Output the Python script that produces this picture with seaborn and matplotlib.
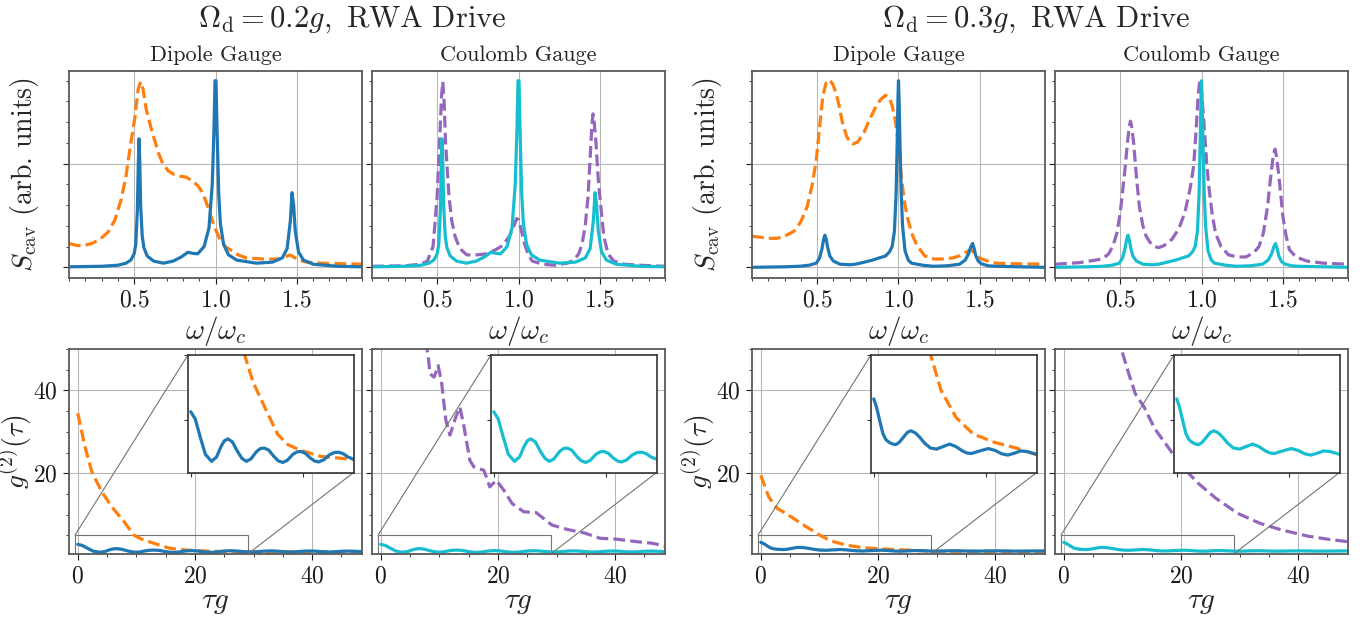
import matplotlib
matplotlib.use("Agg")
import matplotlib.pyplot as plt
from matplotlib.ticker import MultipleLocator
from mpl_toolkits.axes_grid1.inset_locator import mark_inset
import seaborn as sns

# ---------------- cavity spectra (arb. units) ----------------
# Omega_d = 0.2 g : gauge-invariant (solid) result, same in both gauges
omega_02_solid = [0.10, 0.30, 0.40, 0.45, 0.48, 0.50, 0.51, 0.52, 0.525, 0.53, 0.535, 0.54, 0.55,
                  0.56, 0.58, 0.62, 0.68, 0.74, 0.79, 0.83, 0.86, 0.89, 0.93, 0.96, 0.98, 0.99,
                  0.997, 1.003, 1.01, 1.02, 1.03, 1.05, 1.08, 1.13, 1.25, 1.35, 1.41, 1.44, 1.46,
                  1.47, 1.48, 1.49, 1.51, 1.54, 1.60, 1.75, 1.90]
s_02_solid = [0.005, 0.01, 0.02, 0.04, 0.07, 0.13, 0.22, 0.55, 0.95, 1.24, 1.0, 0.6, 0.3,
              0.19, 0.11, 0.06, 0.04, 0.06, 0.10, 0.145, 0.135, 0.13, 0.20, 0.38, 0.80, 1.30,
              1.80, 1.80, 1.30, 0.70, 0.42, 0.22, 0.12, 0.07, 0.04, 0.05, 0.09, 0.18, 0.45,
              0.72, 0.60, 0.35, 0.15, 0.07, 0.03, 0.01, 0.005]
# dipole gauge, naive (dashed)
omega_02_dip = [0.10, 0.15, 0.19, 0.24, 0.29, 0.34, 0.38, 0.42, 0.45, 0.48, 0.505, 0.525, 0.54,
                0.555, 0.575, 0.603, 0.627, 0.65, 0.676, 0.71, 0.74, 0.78, 0.82, 0.86, 0.89,
                0.92, 0.945, 0.97, 0.994, 1.03, 1.06, 1.09, 1.14, 1.19, 1.30, 1.385, 1.43,
                1.455, 1.48, 1.51, 1.56, 1.65, 1.90]
s_02_dip = [0.23, 0.21, 0.21, 0.23, 0.27, 0.34, 0.45, 0.65, 0.88, 1.20, 1.45, 1.72, 1.79,
            1.72, 1.52, 1.35, 1.22, 1.10, 1.00, 0.93, 0.90, 0.88, 0.87, 0.83, 0.79,
            0.72, 0.62, 0.50, 0.39, 0.26, 0.20, 0.17, 0.12, 0.09, 0.08, 0.08, 0.10,
            0.12, 0.10, 0.07, 0.05, 0.04, 0.03]
# coulomb gauge, naive (dashed)
omega_02_coul = [0.10, 0.30, 0.40, 0.44, 0.475, 0.50, 0.515, 0.527, 0.535, 0.543, 0.552, 0.573,
                 0.59, 0.61, 0.64, 0.683, 0.74, 0.805, 0.86, 0.902, 0.94, 0.963, 0.988, 1.0,
                 1.012, 1.037, 1.06, 1.085, 1.15, 1.22, 1.30, 1.34, 1.37, 1.39, 1.41, 1.427,
                 1.44, 1.451, 1.458, 1.465, 1.476, 1.49, 1.50, 1.524, 1.55, 1.585, 1.65, 1.75, 1.90]
s_02_coul = [0.01, 0.015, 0.03, 0.06, 0.20, 0.68, 1.20, 1.65, 1.79, 1.60, 1.20, 0.68,
             0.45, 0.30, 0.18, 0.12, 0.12, 0.13, 0.17, 0.21, 0.29, 0.36, 0.47, 0.46,
             0.39, 0.23, 0.12, 0.06, 0.03, 0.02, 0.04, 0.07, 0.13, 0.22, 0.40, 0.68,
             1.05, 1.38, 1.48, 1.40, 1.20, 0.85, 0.68, 0.30, 0.13, 0.06, 0.03, 0.02, 0.01]

# Omega_d = 0.3 g
omega_03_solid = [0.10, 0.30, 0.39, 0.45, 0.495, 0.515, 0.53, 0.54, 0.548, 0.556, 0.565, 0.578,
                  0.60, 0.641, 0.70, 0.735, 0.79, 0.841, 0.88, 0.921, 0.945, 0.961, 0.975,
                  0.985, 0.992, 0.997, 1.0, 1.004, 1.01, 1.017, 1.025, 1.04, 1.06, 1.08, 1.15,
                  1.215, 1.30, 1.375, 1.41, 1.43, 1.445, 1.455, 1.465, 1.475, 1.49, 1.508,
                  1.55, 1.60, 1.90]
s_03_solid = [0.0, 0.005, 0.01, 0.02, 0.04, 0.09, 0.18, 0.27, 0.31, 0.27, 0.19, 0.11,
              0.06, 0.03, 0.025, 0.03, 0.05, 0.07, 0.09, 0.11, 0.15, 0.20, 0.35,
              0.70, 1.20, 1.65, 1.80, 1.60, 1.14, 0.70, 0.40, 0.16, 0.07, 0.04, 0.02,
              0.01, 0.015, 0.03, 0.07, 0.13, 0.20, 0.23, 0.18, 0.11, 0.06, 0.035,
              0.015, 0.01, 0.0]
omega_03_dip = [0.10, 0.15, 0.20, 0.255, 0.30, 0.36, 0.40, 0.44, 0.47, 0.495, 0.515, 0.535,
                0.555, 0.575, 0.595, 0.615, 0.635, 0.655, 0.68, 0.70, 0.721, 0.75, 0.788,
                0.82, 0.855, 0.89, 0.921, 0.945, 0.961, 0.98, 0.996, 1.005, 1.015, 1.027,
                1.041, 1.06, 1.081, 1.11, 1.161, 1.22, 1.268, 1.33, 1.375, 1.42, 1.441,
                1.46, 1.48, 1.51, 1.55, 1.60, 1.70, 1.90]
s_03_dip = [0.30, 0.29, 0.28, 0.28, 0.30, 0.35, 0.44, 0.59, 0.80, 1.04, 1.35, 1.65,
            1.78, 1.81, 1.77, 1.69, 1.56, 1.40, 1.27, 1.21, 1.19, 1.21, 1.30,
            1.42, 1.53, 1.62, 1.66, 1.63, 1.56, 1.42, 1.24, 1.08, 0.91, 0.75,
            0.59, 0.45, 0.33, 0.22, 0.11, 0.08, 0.08, 0.09, 0.11, 0.15, 0.17,
            0.15, 0.11, 0.08, 0.06, 0.04, 0.035, 0.03]
omega_03_coul = [0.10, 0.25, 0.39, 0.43, 0.457, 0.48, 0.50, 0.51, 0.53, 0.545, 0.557, 0.564,
                 0.571, 0.583, 0.60, 0.618, 0.64, 0.66, 0.684, 0.71, 0.738, 0.77, 0.818,
                 0.86, 0.898, 0.93, 0.952, 0.968, 0.979, 0.988, 0.993, 1.003, 1.019, 1.032,
                 1.045, 1.065, 1.086, 1.12, 1.166, 1.22, 1.273, 1.32, 1.353, 1.38, 1.406,
                 1.42, 1.433, 1.443, 1.452, 1.462, 1.473, 1.487, 1.50, 1.52, 1.54, 1.58,
                 1.647, 1.75, 1.90]
s_03_coul = [0.03, 0.045, 0.08, 0.13, 0.21, 0.33, 0.52, 0.655, 0.95, 1.20, 1.37, 1.41,
             1.36, 1.20, 0.88, 0.59, 0.40, 0.30, 0.24, 0.20, 0.19, 0.21, 0.27,
             0.37, 0.53, 0.76, 0.98, 1.35, 1.65, 1.78, 1.80, 1.65, 1.30, 1.00,
             0.78, 0.52, 0.33, 0.20, 0.12, 0.10, 0.10, 0.14, 0.20, 0.33, 0.59,
             0.80, 0.98, 1.10, 1.14, 1.06, 0.91, 0.70, 0.49, 0.30, 0.17, 0.10,
             0.06, 0.04, 0.03]

# ---------------- second-order correlation g2(tau) ----------------
tau_02_solid = [0, 0.8, 1.7, 2.6, 3.7, 4.6, 5.4, 6.0, 6.6, 7.4, 8.3, 9.1, 9.9, 10.7, 11.7,
                12.4, 13.1, 13.9, 14.8, 15.6, 16.4, 17.2, 18.2, 18.9, 19.6, 20.4, 21.3,
                22.1, 22.8, 23.7, 24.7, 25.6, 26.4, 27.2, 28.0, 28.8, 29.6, 30.5, 31.5,
                32.4, 33.1, 33.9, 34.9, 35.7, 36.4, 37.2, 38.1, 39.0, 39.8, 40.6, 41.6,
                42.4, 43.0, 43.8, 44.7, 45.6, 46.4, 47.2, 48.2, 49.0]
g2_02_solid = [2.83, 2.55, 1.85, 1.2, 0.93, 1.1, 1.5, 1.72, 1.79, 1.68, 1.32, 1.05, 0.93, 1.02,
               1.3, 1.42, 1.44, 1.36, 1.12, 0.95, 0.89, 0.97, 1.2, 1.29, 1.31, 1.24, 1.06,
               0.94, 0.91, 0.99, 1.18, 1.27, 1.28, 1.22, 1.1, 1.03, 0.99, 1.03, 1.16,
               1.24, 1.25, 1.2, 1.07, 1.0, 0.98, 1.03, 1.14, 1.21, 1.22, 1.18, 1.07,
               1.01, 0.99, 1.04, 1.13, 1.19, 1.2, 1.16, 1.08, 1.03]
tau_02_dip = [0, 1.2, 2.4, 4.1, 5.8, 7.9, 9.6, 11.1, 13.2, 15.5, 17.3, 19.6, 23.2, 26.7, 28.8,
              33, 38, 43, 49]
g2_02_dip = [34.5, 26.5, 20.3, 15.5, 11.9, 8.3, 5.0, 3.96, 2.99, 1.96, 1.57, 1.35, 1.12, 1.05, 1.0,
             1.0, 1.0, 1.0, 1.0]
tau_02_coul = [7.0, 8.05, 8.4, 9.1, 9.8, 10.4, 11.1, 11.8, 12.8, 13.5, 14.2, 15.2, 15.9, 17.6,
               18.6, 19.7, 21.0, 22.4, 24.4, 26.5, 29.2, 31.9, 34.7, 37.4, 40.1, 43.5, 46.3, 49.0]
g2_02_coul = [56, 48.8, 44.0, 43.2, 46.0, 41.6, 32.8, 29.2, 33.6, 36.0, 31.2, 23.1, 21.5, 20.7,
              16.7, 18.3, 15.9, 12.7, 10.7, 10.5, 7.5, 6.4, 5.6, 4.3, 4.1, 3.5, 3.1, 2.3]

tau_03_solid = [0, 0.5, 1.1, 1.65, 2.2, 2.8, 3.4, 3.9, 4.5, 5.5, 6.0, 6.6, 7.4, 8.2, 9.1, 10.1,
                11.2, 12.4, 13.5, 14.6, 15.8, 16.6, 17.4, 18.9, 20.4, 21.6, 22.8, 23.9,
                25.0, 26.2, 27.4, 28.5, 29.5, 30.5, 32.0, 33.2, 34.5, 36.0, 37.5, 39.0,
                40.5, 42.0, 43.5, 45.0, 46.5, 48.0, 49.0]
g2_03_solid = [3.32, 3.0, 2.45, 1.98, 1.75, 1.65, 1.59, 1.57, 1.65, 1.91, 2.04, 2.1, 2.02, 1.85,
               1.62, 1.44, 1.4, 1.5, 1.59, 1.5, 1.33, 1.25, 1.23, 1.33, 1.42, 1.35, 1.22, 1.17,
               1.24, 1.33, 1.3, 1.23, 1.18, 1.2, 1.27, 1.29, 1.24, 1.18, 1.2, 1.25,
               1.26, 1.22, 1.19, 1.2, 1.23, 1.24, 1.22]
tau_03_dip = [0, 1.35, 2.8, 4.3, 7.3, 10.0, 12.0, 14.7, 17.7, 21.6, 25.4, 28.8, 35, 42, 49]
g2_03_dip = [19.5, 14.3, 11.5, 10.3, 7.5, 5.1, 3.64, 2.6, 1.98, 1.65, 1.44, 1.2, 1.15, 1.12, 1.1]
tau_03_coul = [9.0, 9.9, 11.1, 12.2, 13.7, 15.5, 17.8, 20.0, 23.0, 26.0, 29.7, 33.5, 37.2, 41.7,
               45.4, 48.6, 49.0]
g2_03_coul = [53, 49.6, 44.0, 39.2, 36.0, 30.8, 26.3, 21.9, 17.5, 13.9, 10.3, 7.9, 6.3, 4.8,
              4.0, 3.45, 3.4]

drives = ["0.2", "0.3"]
gauges = ["Dipole Gauge", "Coulomb Gauge"]

C_BLUE, C_ORANGE, C_CYAN, C_PURPLE = "#1f77b4", "#ff7f0e", "#17becf", "#9467bd"

sns.set_style("ticks")
plt.rcParams["font.family"] = ["serif"]
plt.rcParams["font.serif"] = ["cmr10", "DejaVu Serif"]
plt.rcParams["mathtext.fontset"] = "cm"
plt.rcParams["axes.formatter.use_mathtext"] = True
plt.rcParams["axes.unicode_minus"] = False

W, H = 1369, 618
fig = plt.figure(figsize=(W / 100, H / 100), dpi=100)


def box(x0, x1, y0, y1):
    return [x0 / W, 1 - y1 / H, (x1 - x0) / W, (y1 - y0) / H]


cols = [(69, 362), (372, 665), (752, 1045), (1055, 1348)]
spec = {
    "0.2": [(omega_02_solid, s_02_solid), (omega_02_dip, s_02_dip), (omega_02_coul, s_02_coul)],
    "0.3": [(omega_03_solid, s_03_solid), (omega_03_dip, s_03_dip), (omega_03_coul, s_03_coul)],
}
corr = {
    "0.2": [(tau_02_solid, g2_02_solid), (tau_02_dip, g2_02_dip), (tau_02_coul, g2_02_coul)],
    "0.3": [(tau_03_solid, g2_03_solid), (tau_03_dip, g2_03_dip), (tau_03_coul, g2_03_coul)],
}


def style(ax):
    for sp in ax.spines.values():
        sp.set_color("0.35")
        sp.set_linewidth(1.3)
    ax.tick_params(which="both", direction="out", colors="0.1", labelsize=17)
    ax.tick_params(which="minor", length=2.5)
    ax.tick_params(which="major", length=4.5)
    ax.grid(True, which="major", color="0.72", lw=0.8)
    ax.set_axisbelow(True)


def draw(ax, x, y, color, dashed):
    sns.lineplot(x=x, y=y, ax=ax, color=color, lw=2.3,
                 linestyle="--" if dashed else "-", sort=False, estimator=None, legend=False)


for d, drive in enumerate(drives):
    (sx, sy), (dx, dy), (cx, cy) = spec[drive]
    (tx, ty), (tdx, tdy), (tcx, tcy) = corr[drive]
    for g, gauge in enumerate(gauges):
        x0, x1 = cols[2 * d + g]
        solid_c = C_BLUE if g == 0 else C_CYAN
        dash_c = C_ORANGE if g == 0 else C_PURPLE
        dash = (dx, dy) if g == 0 else (cx, cy)
        dash_t = (tdx, tdy) if g == 0 else (tcx, tcy)

        # spectrum
        ax = fig.add_axes(box(x0, x1, 71, 278))
        style(ax)
        draw(ax, *dash, dash_c, True)
        draw(ax, sx, sy, solid_c, False)
        ax.set_xlim(0.1, 1.9)
        ax.set_ylim(-0.103, 1.894)
        ax.xaxis.set_major_locator(MultipleLocator(0.5))
        ax.xaxis.set_minor_locator(MultipleLocator(0.1))
        ax.yaxis.set_major_locator(MultipleLocator(1))
        ax.yaxis.set_minor_locator(MultipleLocator(0.2))
        ax.tick_params(labelleft=False)
        ax.set_title(gauge, fontsize=16, pad=7)
        ax.set_xlabel(r"$\omega/\omega_c$", fontsize=21, labelpad=2)
        if g == 0:
            ax.set_ylabel(r"$S_{\mathrm{cav}}$ (arb. units)", fontsize=20)
            ax.yaxis.set_label_coords(-0.095, 0.5)
        else:
            ax.set_ylabel("")

        # correlation
        ax = fig.add_axes(box(x0, x1, 349, 554))
        style(ax)
        draw(ax, *dash_t, dash_c, True)
        draw(ax, tx, ty, solid_c, False)
        ax.set_xlim(-1.5, 48.5)
        ax.set_ylim(0.5, 50)
        ax.xaxis.set_major_locator(MultipleLocator(20))
        ax.xaxis.set_minor_locator(MultipleLocator(5))
        ax.yaxis.set_major_locator(MultipleLocator(20))
        ax.yaxis.set_minor_locator(MultipleLocator(5))
        ax.set_xlabel(r"$\tau g$", fontsize=21, labelpad=2)
        if g == 0:
            ax.set_ylabel(r"$g^{(2)}(\tau)$", fontsize=20)
            ax.yaxis.set_label_coords(-0.118, 0.5)
        else:
            ax.set_ylabel("")
            ax.tick_params(labelleft=False)

        axins = ax.inset_axes([0.406, 0.397, 0.565, 0.574])
        for sp in axins.spines.values():
            sp.set_color("0.2")
            sp.set_linewidth(1.2)
        draw(axins, *dash_t, dash_c, True)
        draw(axins, tx, ty, solid_c, False)
        axins.set_xlim(-0.5, 29)
        axins.set_ylim(0.5, 5)
        axins.xaxis.set_major_locator(MultipleLocator(20))
        axins.yaxis.set_major_locator(MultipleLocator(2.5))
        axins.tick_params(labelleft=False, labelbottom=False, length=3, colors="0.2")
        axins.set_xlabel("")
        axins.set_ylabel("")
        mark_inset(ax, axins, loc1=2, loc2=4, fc="none", ec="0.45", lw=0.8)

    fig.text((352 if d == 0 else 1036) / W, 1 - 19 / H,
             r"$\Omega_{\mathrm{d}} = %sg,\ \mathrm{RWA\ Drive}$" % drive,
             ha="center", va="center", fontsize=22)

fig.savefig("out.png", dpi=100)
